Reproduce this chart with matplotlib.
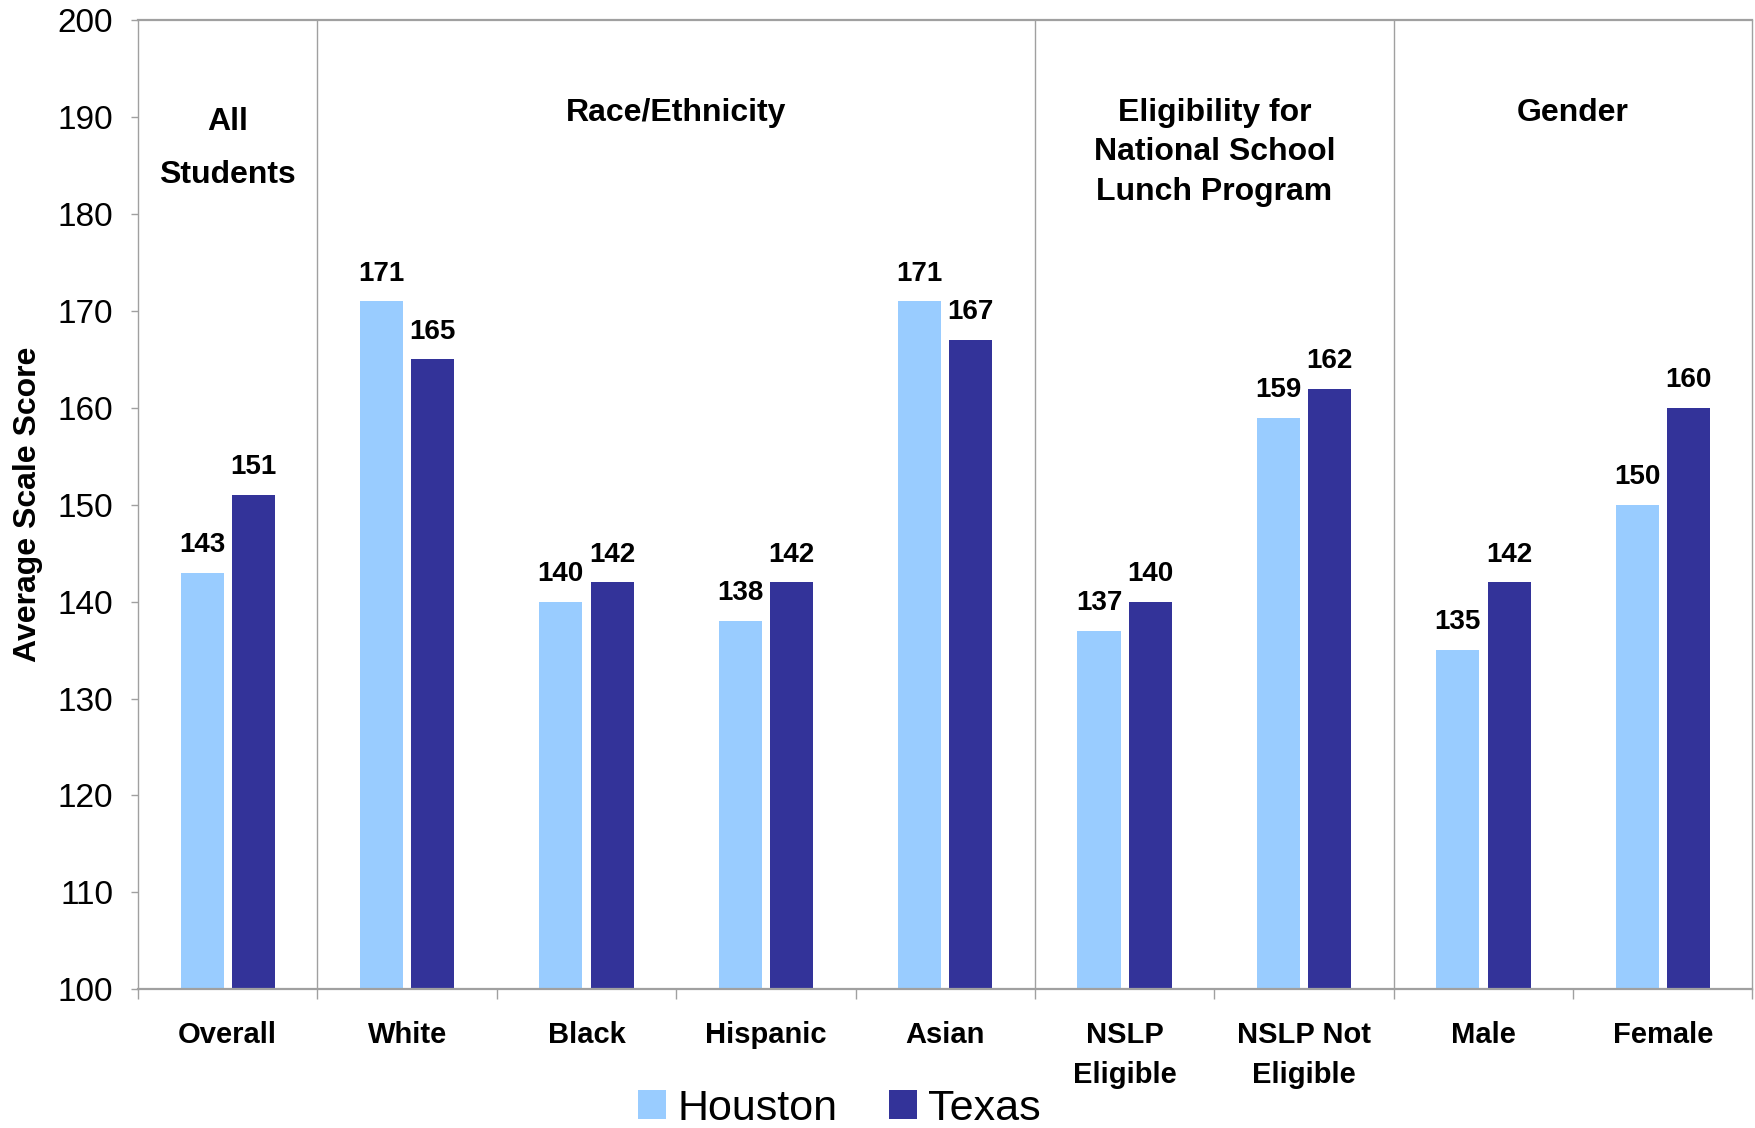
import numpy as np
import matplotlib
matplotlib.use("Agg")
import matplotlib.pyplot as plt
from matplotlib.patches import Patch

plt.rcParams['font.family'] = ['Liberation Sans', 'DejaVu Sans']

# Average scale scores by student group
categories = ['Overall', 'White', 'Black', 'Hispanic', 'Asian',
              'NSLP\nEligible', 'NSLP Not\nEligible', 'Male', 'Female']
houston = [143, 171, 140, 138, 171, 137, 159, 135, 150]
texas = [151, 165, 142, 142, 167, 140, 162, 142, 160]

groups = ['All\nStudents', 'Race/Ethnicity',
          'Eligibility for\nNational School\nLunch Program', 'Gender']
group_centers = [0, 2.5, 5.5, 7.5]
group_breaks = [0.5, 4.5, 6.5]

houston_color = '#99CCFF'
texas_color = '#333399'
grid_gray = '#A0A0A0'

fig = plt.figure(figsize=(17.56, 11.28), dpi=100)
ax = fig.add_axes([0.0786, 0.123, 0.9194, 0.859])

x = np.arange(len(categories))
w = 0.24
b1 = ax.bar(x - 0.143, np.array(houston) - 100, w, bottom=100, color=houston_color)
b2 = ax.bar(x + 0.143, np.array(texas) - 100, w, bottom=100, color=texas_color)

# value labels above each bar
for bars, vals in [(b1, houston), (b2, texas)]:
    for bar, v in zip(bars, vals):
        ax.annotate(str(v), (bar.get_x() + bar.get_width() / 2, v),
                    xytext=(0, 20), textcoords='offset points',
                    ha='center', va='center', fontsize=20, fontweight='bold')

ax.set_xlim(-0.5, 8.5)
ax.set_ylim(100, 200)
ax.set_yticks(np.arange(100, 201, 10))
ax.tick_params(axis='y', labelsize=24, length=5, width=1, color=grid_gray, pad=13)

# tick marks at category boundaries, labels at category centres
ax.set_xticks(np.arange(-0.5, 9, 1))
ax.set_xticklabels([])
ax.tick_params(axis='x', which='major', length=7, width=1, color=grid_gray)
ax.set_xticks(x, minor=True)
ax.set_xticklabels(categories, minor=True, fontsize=21, fontweight='bold',
                   linespacing=1.55, va='top')
ax.tick_params(axis='x', which='minor', length=0, pad=23)

for s in ['left', 'right']:
    ax.spines[s].set_color(grid_gray)
    ax.spines[s].set_linewidth(1.0)
for s in ['top', 'bottom']:
    ax.spines[s].set_color(grid_gray)
    ax.spines[s].set_linewidth(1.6)

for xb in group_breaks:
    ax.axvline(xb, color=grid_gray, lw=1.0)

for g, gx in zip(groups, group_centers):
    ls = 2.0 if g.startswith('All') else 1.42
    gy = 191.1 if g.startswith('All') else 192.0
    ax.text(gx, gy, g, ha='center', va='top', fontsize=23,
            fontweight='bold', linespacing=ls)

fig.text(0.016, 1 - 504 / 1128, 'Average Scale Score', rotation=90,
         ha='center', va='center', fontsize=23, fontweight='bold')

handles = [Patch(facecolor=houston_color, label='Houston'),
           Patch(facecolor=texas_color, label='Texas')]
fig.legend(handles=handles, loc='center', bbox_to_anchor=(0.478, 0.017),
           ncol=2, frameon=False, fontsize=31, handlelength=0.65,
           handleheight=0.65, handletextpad=0.25, columnspacing=1.2)

fig.savefig('out.png', dpi=100)
